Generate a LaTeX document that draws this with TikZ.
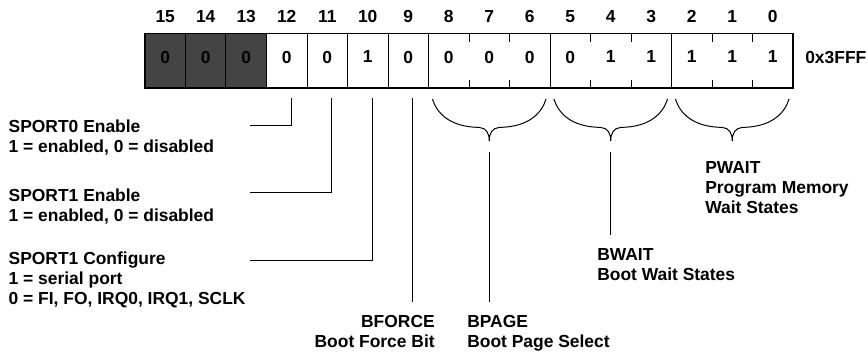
\documentclass[tikz,border=0pt]{standalone}
\usepackage{fontspec}
\setmainfont{Liberation Sans}
\usepackage{tikz}
\usetikzlibrary{positioning, calc}
\definecolor{regshade}{RGB}{68,68,68}
\newcommand{\regfont}{\fontsize{12.4pt}{14.2pt}\selectfont\bfseries}
\tikzset{
  bitcell/.style={rectangle, minimum width=1.0125cm, minimum height=1.3625cm,
    inner sep=0pt, outer sep=0pt, text depth=0.19cm, font=\regfont},
  bitnum/.style={inner sep=0pt, font=\regfont},
  addrtext/.style={inner sep=0pt, text depth=0.19cm, font=\regfont},
  fieldtext/.style={inner sep=0pt, align=left, font=\regfont},
  leader/.style={line width=0.7pt, color=black},
  brace/.style={line width=0.7pt, color=black}
}
\begin{document}
\begin{tikzpicture}[field/.style={draw=black, line width=0.7pt}]
\useasboundingbox (0,0) rectangle (21.7,-8.8);

% register cells, bit 15 down to bit 0
\node[bitcell, fill=regshade] (b15) at (4.131,-1.519) {0};
\node[bitcell, fill=regshade, right=0pt of b15] (b14) {0};
\node[bitcell, fill=regshade, right=0pt of b14] (b13) {0};
\foreach \b/\v in {12/0,11/0,10/1,9/0,8/0,7/0,6/0,5/0,4/1,3/1,2/1,1/1,0/1}{
  \pgfmathtruncatemacro{\prev}{\b+1}
  \node[bitcell, right=0pt of b\prev] (b\b) {\v};
}
\foreach \b in {15,...,0}
  \node[bitnum, above=0.26cm of b\b] (n\b) {\b};

% fields and frame
\foreach \l/\r in {15/15,14/14,13/13,12/12,11/11,10/10,9/9,8/6,5/3,2/0}
  \draw[field] (b\l.north west) rectangle (b\r.south east);
\foreach \b in {8,7,5,4,2,1}
  \draw[field] (b\b.north east) -- ++(0,-0.21) (b\b.south east) -- ++(0,0.21);
\draw[line width=1pt] (b15.north west) rectangle (b0.south east);
\draw[line width=1.6pt] (b15.south west) -- (b0.south east) -- (b0.north east);

\node[addrtext, right=0.3cm of b0] (addr) {0x3FFF};

% braces under the 3-bit fields
\foreach \m in {7,4,1}{
  \begin{scope}[shift={(b\m.south)}]
    \draw[brace] (-1.42,-0.275) .. controls (-1.32,-0.6) and (-1.02,-0.975) .. (-0.25,-0.985)
      .. controls (-0.075,-1.0) and (0,-1.125) .. (0,-1.325)
      .. controls (0,-1.125) and (0.075,-1.0) .. (0.25,-0.985)
      .. controls (1.02,-0.975) and (1.32,-0.6) .. (1.42,-0.275);
    \coordinate (tip\m) at (0,-1.325);
  \end{scope}
}

% field descriptions
\node[fieldtext, anchor=north west] (sport0) at (0.21,-2.98)
  {SPORT0 Enable\\1 = enabled, 0 = disabled};
\node[fieldtext, anchor=north west] (sport1en) at (0.21,-4.72)
  {SPORT1 Enable\\1 = enabled, 0 = disabled};
\node[fieldtext, anchor=north west] (sport1cfg) at (0.21,-6.295)
  {SPORT1 Configure\\1 = serial port\\0 = FI, FO, IRQ0, IRQ1, SCLK};
\node[fieldtext, align=right, anchor=north east] (bforce) at (10.875,-7.87)
  {BFORCE\\Boot Force Bit};
\node[fieldtext, anchor=north west] (bpage) at (11.675,-7.87)
  {BPAGE\\Boot Page Select};
\node[fieldtext, anchor=north west] (bwait) at (14.925,-6.21)
  {BWAIT\\Boot Wait States};
\node[fieldtext, anchor=north west] (pwait) at (17.625,-4.02)
  {PWAIT\\Program Memory\\Wait States};

% leader lines
\coordinate (s0end) at (6.25,-3.125);
\coordinate (s1end) at (6.25,-4.8);
\coordinate (cfgend) at (6.25,-6.52);
\path ([xshift=0.11cm]b9.south) ++(0,-5.34) coordinate (bfend);
\path ([yshift=-0.27cm]tip7) ++(0,-3.75) coordinate (bpend);
\path ([yshift=-0.27cm]tip4) ++(0,-2.085) coordinate (bwend);
\draw[leader] ([xshift=0.11cm, yshift=-0.26cm]b12.south) |- (s0end);
\draw[leader] ([xshift=0.11cm, yshift=-0.26cm]b11.south) |- (s1end);
\draw[leader] ([xshift=0.11cm, yshift=-0.26cm]b10.south) |- (cfgend);
\draw[leader] ([xshift=0.11cm, yshift=-0.26cm]b9.south) -- (bfend);
\draw[leader] ([yshift=-0.27cm]tip7) -- (bpend);
\draw[leader] ([yshift=-0.27cm]tip4) -- (bwend);
\end{tikzpicture}
\end{document}
